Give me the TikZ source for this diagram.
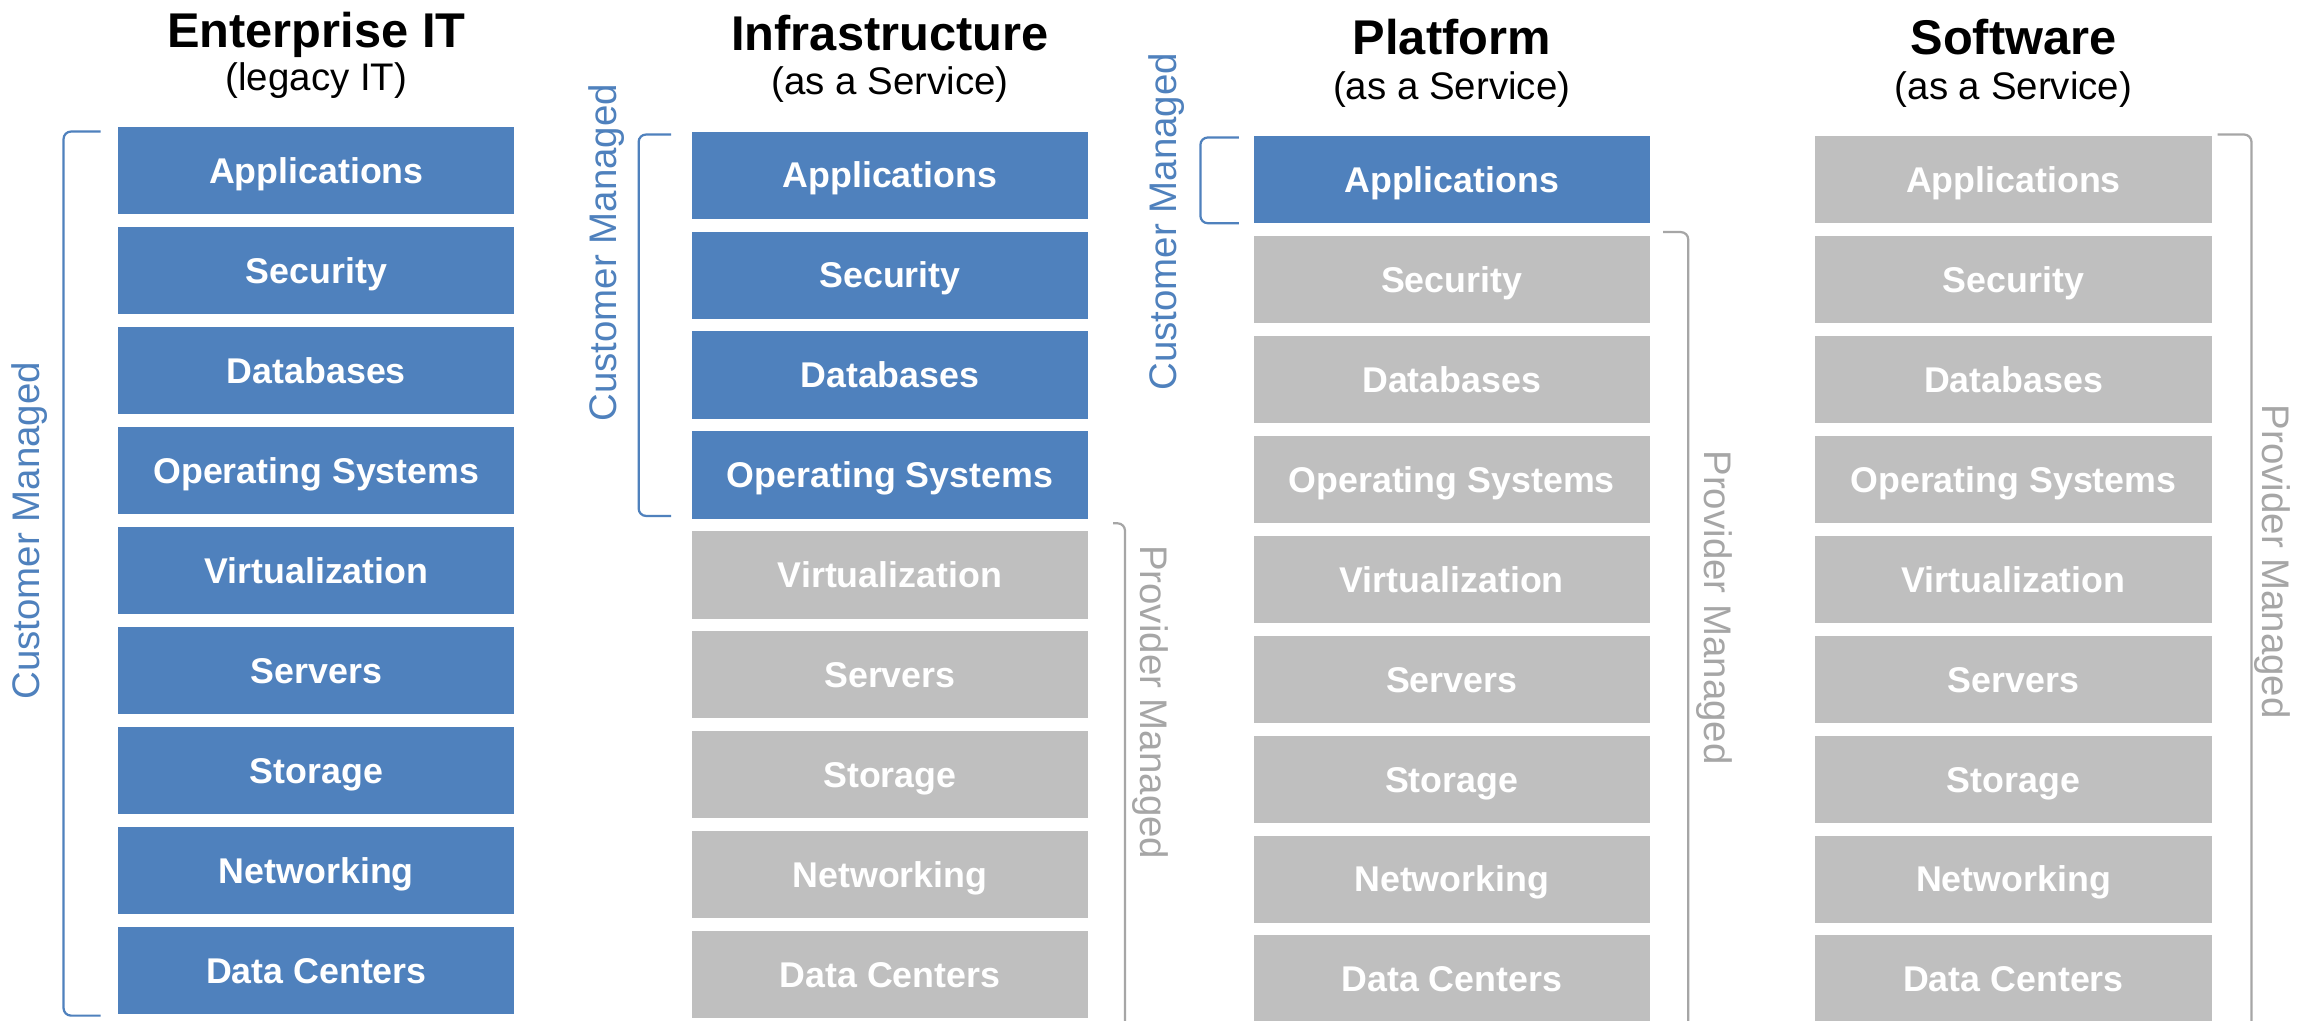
\documentclass[tikz,border=0pt]{standalone}
\usepackage{fontspec}
\setmainfont{Liberation Sans}
\definecolor{cblue}{HTML}{4F81BD}
\definecolor{cgray}{HTML}{BFBFBF}
\definecolor{lgray}{HTML}{A6A6A6}
\begin{document}
\begin{tikzpicture}[x=0.5pt,y=-0.5pt,
  layer/.style={minimum width=134pt, minimum height=29.5pt, inner sep=0pt,
    text=white, font=\fontsize{12.1}{14}\selectfont\bfseries,
    text height=8.66pt, text depth=0pt},
  ttl/.style={anchor=base, font=\fontsize{16.5}{19}\selectfont\bfseries, inner sep=0pt},
  sub/.style={anchor=base, font=\fontsize{13}{15}\selectfont, inner sep=0pt},
  vlab/.style={font=\fontsize{13}{15}\selectfont, inner sep=0pt},
  brk/.style={line width=0.75pt, rounded corners=2.5pt}]
\useasboundingbox (0,0) rectangle (1568,690);
\fill[white] (0,0) rectangle (1568,690);
\foreach \c/\cx/\tp/\nc in {1/214/86/9, 2/602/89/4, 3/982/92/1, 4/1362/92/0}{
  \foreach \lab [count=\i from 0] in {Applications,Security,Databases,Operating Systems,Virtualization,Servers,Storage,Networking,Data Centers}{
    \ifnum\i<\nc\relax \def\fc{cblue}\else\def\fc{cgray}\fi
    \node[layer, fill=\fc] (c\c-\i) at (\cx, {\tp+29.5+\i*67.6}) {\lab};
  }
}
% titles
\node[ttl] (t1) at (214,32) {Enterprise IT};
\node[sub] (s1) at (214,61) {(legacy IT)};
\node[ttl] (t2) at (602,34) {Infrastructure};
\node[sub] (s2) at (602,64) {(as a Service)};
\node[ttl] (t3) at (982,37) {Platform};
\node[sub] (s3) at (982,67) {(as a Service)};
\node[ttl] (t4) at (1362,37) {Software};
\node[sub] (s4) at (1362,67) {(as a Service)};
% brackets
\draw[brk, cblue] (68,89) -- (43,89) -- (43,687) -- (68,687);
\draw[brk, cblue] (454,91) -- (432,91) -- (432,349) -- (454,349);
\draw[brk, cblue] (838,93) -- (812,93) -- (812,151) -- (838,151);
\draw[brk, lgray] (753,354) -- (761,354) -- (761,700);
\draw[brk, lgray] (1125,157) -- (1142,157) -- (1142,700);
\draw[brk, lgray] (1500,91) -- (1523,91) -- (1523,700);
% side labels
\node[vlab, text=cblue, rotate=90] (cm1) at (20,359) {Customer Managed};
\node[vlab, text=cblue, rotate=90] (cm2) at (410,171) {Customer Managed};
\node[vlab, text=cblue, rotate=90] (cm3) at (789,150) {Customer Managed};
\node[vlab, text=lgray, rotate=-90] (pm2) at (778,475) {Provider Managed};
\node[vlab, text=lgray, rotate=-90] (pm3) at (1160,411) {Provider Managed};
\node[vlab, text=lgray, rotate=-90] (pm4) at (1537,380) {Provider Managed};
\end{tikzpicture}
\end{document}
